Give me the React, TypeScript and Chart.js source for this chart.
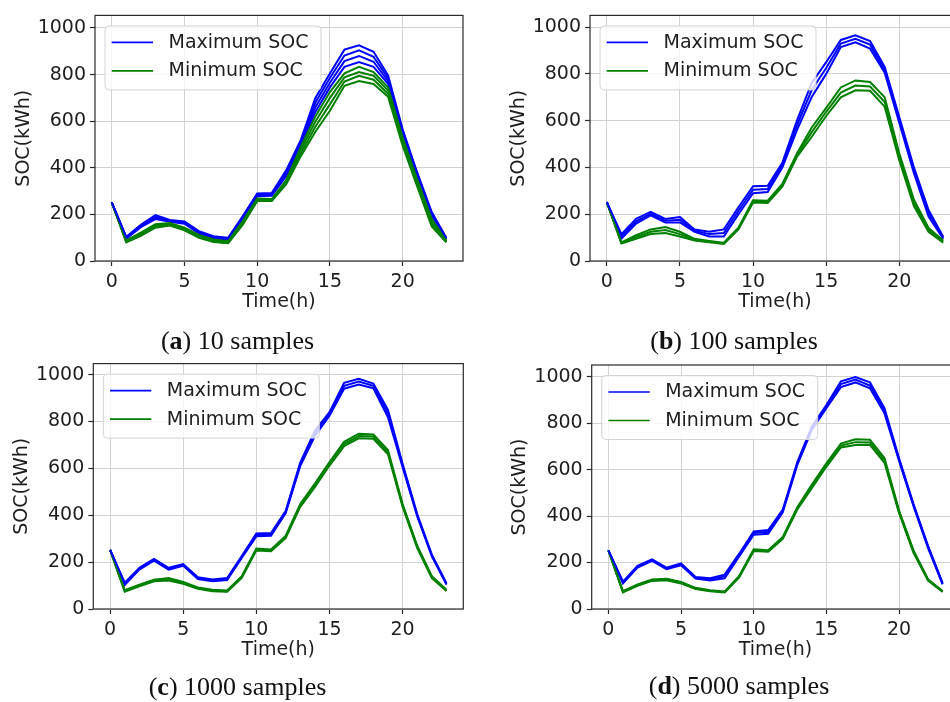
import React, { useEffect, useRef } from "react";
import { Chart, registerables } from "chart.js";

Chart.register(...registerables);

// ---------------- data ----------------
const HOURS = [0, 1, 2, 3, 4, 5, 6, 7, 8, 9, 10, 11, 12, 13, 14, 15, 16, 17, 18, 19, 20, 21, 22, 23];
const X_TICKS = [0, 5, 10, 15, 20];
const Y_TICKS = [0, 200, 400, 600, 800, 1000];
const LEGEND_LABELS = ["Maximum SOC", "Minimum SOC"];
const X_TITLE = "Time(h)";
const Y_TITLE = "SOC(kWh)";

// (a) 10 samples
const A_MAX = [
  [252, 104, 155, 197, 176, 170, 128, 106, 100, 192, 290, 292, 390, 520, 700, 805, 907, 926, 898, 797, 565, 380, 210, 100],
  [252, 101, 151, 190, 173, 166, 124, 103, 97, 188, 286, 288, 382, 508, 680, 785, 882, 904, 876, 785, 558, 374, 205, 98],
  [252, 99, 148, 185, 170, 163, 121, 100, 95, 184, 282, 284, 374, 498, 660, 765, 858, 880, 855, 772, 550, 368, 200, 97],
  [252, 96, 145, 180, 168, 160, 118, 98, 92, 180, 278, 280, 365, 490, 640, 745, 833, 854, 833, 760, 540, 360, 195, 95],
];
const A_MIN = [
  [252, 88, 122, 158, 163, 143, 112, 92, 85, 170, 268, 266, 348, 490, 620, 725, 805, 833, 811, 745, 530, 350, 180, 88],
  [252, 85, 117, 152, 159, 139, 108, 88, 81, 165, 264, 262, 342, 476, 598, 700, 788, 811, 795, 732, 518, 340, 168, 85],
  [252, 83, 112, 147, 155, 135, 104, 85, 78, 160, 260, 260, 336, 462, 576, 672, 770, 795, 778, 718, 506, 330, 158, 82],
  [252, 80, 108, 143, 152, 132, 100, 82, 76, 155, 257, 257, 330, 450, 555, 645, 752, 772, 760, 705, 495, 320, 148, 80],
];

// (b) 100 samples
const B_MAX = [
  [252, 115, 180, 210, 180, 188, 135, 125, 135, 230, 320, 322, 420, 600, 760, 850, 945, 965, 940, 830, 615, 400, 218, 104],
  [252, 105, 170, 202, 172, 176, 130, 115, 120, 215, 305, 308, 410, 580, 730, 825, 930, 950, 925, 818, 602, 388, 204, 100],
  [252, 95, 160, 195, 165, 165, 125, 105, 105, 200, 290, 295, 400, 560, 700, 800, 915, 935, 908, 805, 590, 375, 190, 95],
];
const B_MIN = [
  [252, 80, 110, 135, 145, 125, 95, 86, 78, 142, 260, 258, 330, 460, 570, 655, 742, 772, 765, 700, 460, 262, 141, 88],
  [252, 77, 102, 125, 132, 115, 91, 83, 75, 138, 255, 253, 324, 452, 550, 638, 720, 750, 746, 680, 445, 248, 133, 83],
  [252, 75, 95, 115, 120, 105, 88, 80, 73, 135, 250, 248, 318, 445, 530, 620, 700, 730, 728, 660, 430, 235, 125, 78],
];

// (c) 1000 samples
const C_MAX = [
  [252, 112, 176, 214, 176, 192, 136, 126, 132, 226, 322, 324, 418, 625, 760, 840, 965, 982, 962, 850, 620, 405, 232, 110],
  [252, 108, 172, 210, 172, 188, 132, 122, 128, 222, 316, 318, 413, 618, 749, 832, 952, 970, 952, 834, 612, 400, 228, 107],
  [252, 103, 168, 206, 168, 184, 128, 118, 124, 218, 310, 312, 408, 610, 738, 825, 940, 958, 942, 818, 605, 395, 225, 104],
];
const C_MIN = [
  [252, 80, 104, 125, 132, 115, 92, 82, 79, 140, 258, 254, 312, 448, 535, 627, 713, 748, 745, 678, 448, 270, 140, 82],
  [252, 77, 100, 121, 127, 111, 89, 79, 76, 136, 254, 250, 307, 442, 527, 620, 704, 738, 736, 669, 442, 265, 136, 79],
  [252, 74, 97, 118, 122, 108, 86, 76, 74, 133, 250, 246, 302, 436, 520, 612, 695, 728, 726, 660, 436, 260, 132, 77],
];

// (d) 5000 samples
const D_MAX = [
  [252, 118, 186, 214, 178, 196, 138, 132, 148, 238, 334, 340, 428, 632, 785, 878, 980, 998, 975, 864, 650, 452, 272, 112],
  [252, 114, 182, 210, 174, 192, 134, 127, 140, 232, 327, 332, 422, 626, 778, 871, 968, 987, 962, 853, 644, 447, 267, 109],
  [252, 110, 178, 207, 171, 188, 131, 123, 132, 226, 320, 324, 416, 620, 770, 864, 955, 975, 950, 842, 638, 442, 262, 106],
];
const D_MIN = [
  [252, 77, 106, 127, 130, 116, 91, 81, 75, 142, 257, 253, 310, 438, 535, 627, 712, 730, 728, 650, 425, 252, 128, 77],
  [252, 75, 103, 124, 127, 113, 88, 78, 73, 139, 253, 250, 306, 433, 527, 620, 703, 718, 717, 640, 419, 247, 125, 75],
  [252, 72, 100, 121, 124, 110, 86, 76, 71, 136, 250, 246, 302, 428, 520, 612, 695, 706, 706, 629, 413, 242, 122, 73],
];

const CAPTION_LETTERS = ["a", "b", "c", "d"];
const CAPTION_TEXTS = [" 10 samples", " 100 samples", " 1000 samples", " 5000 samples"];

// ---------------- styles / layout ----------------
const BLUE = "#0000ff";
const GREEN = "#008000";
const TEXT = "#1e1e1e";
const FONT_FAMILY = "'DejaVu Sans', sans-serif";
const FONT_SIZE = 19;
const LINE_W = 2;

type PanelCfg = {
  max: number[][];
  min: number[][];
  yMax: number;
  canvas: { left: number; top: number; width: number; height: number };
  padTop: number;
  padRight: number;
  yWidth: number;
  yTitlePad: number;
};

const PANELS: PanelCfg[] = [
  { max: A_MAX, min: A_MIN, yMax: 1054, canvas: { left: 0, top: 0, width: 475, height: 330 }, padTop: 15, padRight: 12, yWidth: 95, yTitlePad: 12.5 },
  { max: B_MAX, min: B_MIN, yMax: 1050, canvas: { left: 475, top: 0, width: 485, height: 330 }, padTop: 15, padRight: 0, yWidth: 115, yTitlePad: 32.5 },
  { max: C_MAX, min: C_MIN, yMax: 1047, canvas: { left: 0, top: 347.7, width: 475, height: 330 }, padTop: 15.6, padRight: 11.7, yWidth: 93.3, yTitlePad: 10.5 },
  { max: D_MAX, min: D_MIN, yMax: 1050, canvas: { left: 475, top: 348, width: 485, height: 330 }, padTop: 17, padRight: 0.7, yWidth: 116.7, yTitlePad: 33.4 },
];

const CAPTION_POS = [
  { cx: 237.5, top: 328 },
  { cx: 734, top: 328 },
  { cx: 237.5, top: 674 },
  { cx: 739, top: 673 },
];

const overlayPlugin = {
  id: "socOverlay",
  afterDatasetsDraw(chart: any) {
    const { ctx, chartArea } = chart;
    const { left, top, right, bottom } = chartArea;
    ctx.save();
    // frame (spines)
    ctx.strokeStyle = "#2a2a2a";
    ctx.lineWidth = 1.2;
    ctx.strokeRect(left, top, right - left, bottom - top);

    // legend
    const bx = left + 10;
    const by = top + 10.5;
    const bw = 216;
    const bh = 64;
    ctx.beginPath();
    if ((ctx as any).roundRect) (ctx as any).roundRect(bx, by, bw, bh, 4);
    else ctx.rect(bx, by, bw, bh);
    ctx.fillStyle = "rgba(255,255,255,0.8)";
    ctx.fill();
    ctx.strokeStyle = "#d4d4d4";
    ctx.lineWidth = 1;
    ctx.stroke();

    const rows = [
      { color: BLUE, label: LEGEND_LABELS[0], dy: 16.5 },
      { color: GREEN, label: LEGEND_LABELS[1], dy: 45 },
    ];
    ctx.font = `${FONT_SIZE}px ${FONT_FAMILY}`;
    ctx.textBaseline = "middle";
    ctx.textAlign = "left";
    for (const r of rows) {
      ctx.beginPath();
      ctx.strokeStyle = r.color;
      ctx.lineWidth = 1.6;
      ctx.moveTo(bx + 6.7, by + r.dy);
      ctx.lineTo(bx + 48, by + r.dy);
      ctx.stroke();
      ctx.fillStyle = TEXT;
      ctx.fillText(r.label, bx + 63.5, by + r.dy + 0.5);
    }
    ctx.restore();
  },
};

function Panel({ cfg }: { cfg: PanelCfg }) {
  const ref = useRef<HTMLCanvasElement>(null);
  useEffect(() => {
    if (!ref.current) return;
    const datasets: any[] = [];
    const n = Math.max(cfg.max.length, cfg.min.length);
    for (let i = 0; i < n; i++) {
      if (cfg.max[i]) {
        datasets.push({
          label: LEGEND_LABELS[0],
          data: HOURS.map((h, j) => ({ x: h, y: cfg.max[i][j] })),
          borderColor: BLUE,
          borderWidth: LINE_W,
          pointRadius: 0,
          fill: false,
          tension: 0,
        });
      }
      if (cfg.min[i]) {
        datasets.push({
          label: LEGEND_LABELS[1],
          data: HOURS.map((h, j) => ({ x: h, y: cfg.min[i][j] })),
          borderColor: GREEN,
          borderWidth: LINE_W,
          pointRadius: 0,
          fill: false,
          tension: 0,
        });
      }
    }
    const font = { family: FONT_FAMILY, size: FONT_SIZE };
    const grid = {
      color: "#d2d2d2",
      lineWidth: 1,
      drawTicks: true,
      tickLength: 5,
      tickColor: "#2a2a2a",
      tickWidth: 1.2,
    };
    const chart = new Chart(ref.current, {
      type: "line",
      data: { datasets },
      options: {
        animation: false,
        responsive: false,
        devicePixelRatio: 1,
        layout: { padding: { left: 0, top: cfg.padTop, right: cfg.padRight, bottom: 0 } },
        plugins: { legend: { display: false }, tooltip: { enabled: false }, title: { display: false } },
        scales: {
          x: {
            type: "linear",
            min: -1.15,
            max: 24.15,
            afterBuildTicks: (s: any) => {
              s.ticks = X_TICKS.map((v) => ({ value: v }));
            },
            afterFit: (s: any) => {
              s.height = 69;
            },
            grid,
            border: { display: false },
            ticks: { font, color: TEXT, padding: 5, autoSkip: false, maxRotation: 0, callback: (v: any) => String(v) },
            title: { display: true, text: X_TITLE, font, color: TEXT, padding: { top: 0, bottom: 16.5 } },
          },
          y: {
            type: "linear",
            min: 0,
            max: cfg.yMax,
            afterBuildTicks: (s: any) => {
              s.ticks = Y_TICKS.map((v) => ({ value: v }));
            },
            afterFit: (s: any) => {
              s.width = cfg.yWidth;
            },
            grid,
            border: { display: false },
            ticks: { font, color: TEXT, padding: 4, autoSkip: false, callback: (v: any) => String(v) },
            title: { display: true, text: Y_TITLE, font, color: TEXT, padding: { top: cfg.yTitlePad, bottom: 0 } },
          },
        },
      } as any,
      plugins: [overlayPlugin],
    });
    return () => chart.destroy();
  }, [cfg]);
  return (
    <canvas
      ref={ref}
      width={cfg.canvas.width}
      height={cfg.canvas.height}
      style={{
        position: "absolute",
        left: cfg.canvas.left,
        top: cfg.canvas.top,
        width: cfg.canvas.width,
        height: cfg.canvas.height,
      }}
    />
  );
}

export default function App() {
  return (
    <div
      style={{
        position: "absolute",
        left: 0,
        top: 0,
        width: 950,
        height: 702,
        overflow: "hidden",
        background: "#ffffff",
      }}
    >
      {PANELS.map((p, i) => (
        <Panel key={i} cfg={p} />
      ))}
      {CAPTION_LETTERS.map((l, i) => (
        <div
          key={l}
          style={{
            position: "absolute",
            left: CAPTION_POS[i].cx - 200,
            top: CAPTION_POS[i].top,
            width: 400,
            textAlign: "center",
            fontFamily: "'Liberation Serif', serif",
            fontSize: 26,
            lineHeight: "26px",
            color: "#111",
            whiteSpace: "pre",
          }}
        >
          (<b>{l}</b>){CAPTION_TEXTS[i]}
        </div>
      ))}
    </div>
  );
}
